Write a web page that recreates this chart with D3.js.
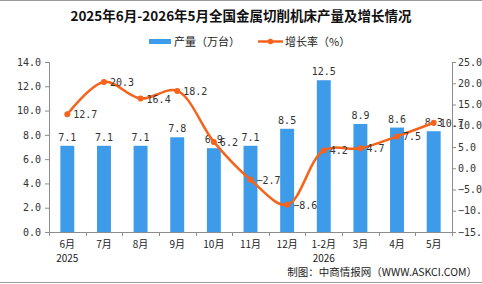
<!DOCTYPE html>
<html>
<head>
<meta charset="utf-8">
<script src="https://cdn.jsdelivr.net/npm/d3@7"></script>
<style>
body { margin: 0; background: #fff; }
text { font-family: "DejaVu Sans Mono", "Noto Sans CJK SC", monospace; }
</style>
</head>
<body>
<script>
var months = ["6月", "7月", "8月", "9月", "10月", "11月", "12月", "1-2月", "3月", "4月", "5月"];
var years = ["2025", "", "", "", "", "", "", "2026", "", "", ""];
var output = [7.1, 7.1, 7.1, 7.8, 6.9, 7.1, 8.5, 12.5, 8.9, 8.6, 8.3];
var growth = [12.7, 20.3, 16.4, 18.2, 6.2, -2.7, -8.6, 4.2, 4.7, 7.5, 10.7];
var leftTicks = [0, 2, 4, 6, 8, 10, 12, 14];
var rightTicks = [-15, -10, -5, 0, 5, 10, 15, 20, 25];

var W = 482, H = 284;
var m = { left: 49, right: 452, top: 62, bottom: 232 };
var cjk = '"Noto Sans CJK SC", sans-serif';

var svg = d3.select("body").append("svg").attr("width", W).attr("height", H);

// frame lines top and bottom
svg.append("line").attr("x1", 0).attr("x2", W).attr("y1", 0.5).attr("y2", 0.5)
    .attr("stroke", "#999");
svg.append("line").attr("x1", 0).attr("x2", W).attr("y1", H - 1.5).attr("y2", H - 1.5)
    .attr("stroke", "#999");

var x = d3.scaleBand().domain(months).range([m.left, m.right]).paddingInner(0.62).paddingOuter(0.31);
var xb = d3.scaleBand().domain(months).range([m.left, m.right]);
var y = d3.scaleLinear().domain([0, 14]).range([m.bottom, m.top]);
var y2 = d3.scaleLinear().domain([-15, 25]).range([m.bottom, m.top]);

// title
svg.append("text").attr("x", 241).attr("y", 21).attr("text-anchor", "middle")
    .style("font-family", cjk).style("font-weight", "bold").style("font-size", "13.5px")
    .attr("fill", "#111").text("2025年6月-2026年5月全国金属切削机床产量及增长情况");

// legend
svg.append("rect").attr("x", 149).attr("y", 39).attr("width", 22).attr("height", 5).attr("fill", "#3d9be9");
svg.append("text").attr("x", 174).attr("y", 46).style("font-family", cjk).style("font-size", "11px")
    .attr("fill", "#222").text("产量（万台）");
svg.append("line").attr("x1", 258).attr("x2", 283).attr("y1", 41.5).attr("y2", 41.5)
    .attr("stroke", "#f5631c").attr("stroke-width", 2.5);
svg.append("circle").attr("cx", 270.5).attr("cy", 41.5).attr("r", 2.8).attr("fill", "#f5631c");
svg.append("text").attr("x", 285).attr("y", 46).style("font-family", cjk).style("font-size", "11px")
    .attr("fill", "#222").text("增长率（%）");

// axes
var axisColor = "#8c8c8c";
var gl = svg.append("g").attr("transform", "translate(" + m.left + ",0)")
    .call(d3.axisLeft(y).tickValues(leftTicks).tickFormat(d3.format(".1f")).tickSize(4).tickPadding(4));
var gr = svg.append("g").attr("transform", "translate(" + m.right + ",0)")
    .call(d3.axisRight(y2).tickValues(rightTicks).tickFormat(d3.format(".1f")).tickSize(4).tickPadding(2));
[gl, gr].forEach(function (g) {
    g.select(".domain").attr("stroke", axisColor);
    g.selectAll(".tick line").attr("stroke", axisColor);
    g.selectAll(".tick text").attr("fill", "#333").style("font-size", "10px")
        .style("font-family", '"DejaVu Sans Mono", monospace');
});
gr.selectAll(".tick text").text(function (d) { return d3.format(".1f")(d).replace("-", "−"); });

// x axis
svg.append("line").attr("x1", m.left).attr("x2", m.right).attr("y1", m.bottom + 0.5).attr("y2", m.bottom + 0.5)
    .attr("stroke", axisColor);
var bounds = months.map(function (d) { return xb(d); }).concat([m.right]);
svg.selectAll(".xtick").data(bounds).enter().append("line")
    .attr("x1", function (d) { return Math.round(d) + 0.5; })
    .attr("x2", function (d) { return Math.round(d) + 0.5; })
    .attr("y1", m.bottom).attr("y2", m.bottom + 4).attr("stroke", axisColor);
svg.selectAll(".xlab").data(months).enter().append("text")
    .attr("x", function (d) { return xb(d) + xb.bandwidth() / 2; })
    .attr("y", 248).attr("text-anchor", "middle")
    .style("font-size", "10px").style("font-family", cjk).attr("fill", "#222")
    .text(function (d) { return d; });
svg.selectAll(".ylab").data(years).enter().append("text")
    .attr("x", function (d, i) { return xb(months[i]) + xb.bandwidth() / 2; })
    .attr("y", 262).attr("text-anchor", "middle")
    .style("font-size", "10px").style("font-family", cjk).attr("fill", "#222")
    .text(function (d) { return d; });

// bars
svg.selectAll(".bar").data(output).enter().append("rect")
    .attr("x", function (d, i) { return x(months[i]); })
    .attr("width", x.bandwidth())
    .attr("y", function (d) { return y(d); })
    .attr("height", function (d) { return m.bottom - y(d); })
    .attr("fill", "#3d9be9");

svg.selectAll(".blab").data(output).enter().append("text")
    .attr("x", function (d, i) { return x(months[i]) + x.bandwidth() / 2; })
    .attr("y", function (d) { return y(d) - 5; })
    .attr("text-anchor", "middle").style("font-size", "10px").attr("fill", "#333")
    .text(function (d) { return d3.format(".1f")(d); });

// growth line
var cx = function (d, i) { return xb(months[i]) + xb.bandwidth() / 2; };
var line = d3.line().x(cx).y(function (d) { return y2(d); }).curve(d3.curveCatmullRom.alpha(0.5));
svg.append("path").datum(growth).attr("d", line).attr("fill", "none")
    .attr("stroke", "#f5631c").attr("stroke-width", 2.5);
svg.selectAll(".dot").data(growth).enter().append("circle")
    .attr("cx", cx).attr("cy", function (d) { return y2(d); }).attr("r", 3)
    .attr("fill", "#f5631c");
svg.selectAll(".glab").data(growth).enter().append("text")
    .attr("x", function (d, i) { return cx(d, i) + 6; })
    .attr("y", function (d) { return y2(d) + 4; })
    .style("font-size", "10px").attr("fill", "#333")
    .text(function (d) { return d3.format(".1f")(d); });

// source
svg.append("text").attr("x", 477).attr("y", 276).attr("text-anchor", "end")
    .style("font-size", "10.5px").style("font-family", cjk).attr("fill", "#222")
    .text("制图：中商情报网（WWW.ASKCI.COM）");
</script>
</body>
</html>
